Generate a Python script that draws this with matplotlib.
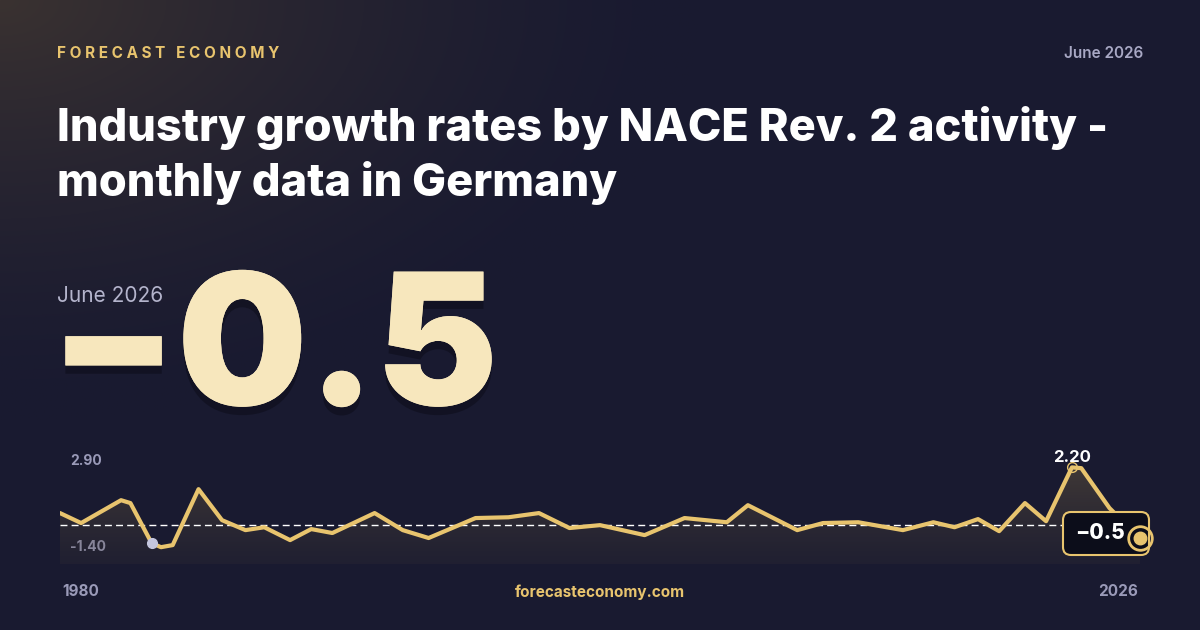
import numpy as np
import matplotlib.pyplot as plt
from matplotlib.patches import FancyBboxPatch
import matplotlib.patheffects as pe

# growth rates (year, %)
years = [1980.0, 1980.9, 1982.6, 1983.0, 1983.9, 1984.3, 1984.8, 1985.9, 1986.9, 1987.9,
         1988.7, 1989.8, 1990.7, 1991.6, 1993.4, 1994.6, 1995.7, 1997.7, 1999.1, 2000.4,
         2001.7, 2003.0, 2004.9, 2006.6, 2008.4, 2009.3, 2011.4, 2012.5, 2014.0, 2015.9,
         2017.2, 2018.1, 2019.1, 2020.0, 2021.1, 2022.0, 2023.1, 2023.5, 2024.7, 2026.0]
values = [0.46, 0.08, 0.95, 0.84, -0.68, -0.84, -0.76, 1.37, 0.19, -0.19,
          -0.08, -0.57, -0.15, -0.30, 0.46, -0.19, -0.49, 0.27, 0.30, 0.46,
          -0.11, 0.00, -0.38, 0.27, 0.11, 0.76, -0.19, 0.08, 0.11, -0.19,
          0.11, -0.08, 0.23, -0.23, 0.84, 0.15, 2.20, 2.17, 0.65, -0.50]
latest = -0.5
peak_year, peak_val = 2023.1, 2.20
low_year, low_val = 1983.9, -0.68

GOLD = '#e8c46e'
W, H = 1200, 630
fig = plt.figure(figsize=(12, 6.3), dpi=100)

# background with warm glow top-left
bg = fig.add_axes([0, 0, 1, 1])
yy, xx = np.mgrid[0:H, 0:W]
d = np.sqrt((xx / 700.0) ** 2 + (yy / 420.0) ** 2)
glow = np.clip(1 - d, 0, 1) ** 1.5
base = np.array([0x19, 0x1a, 0x30]) / 255.0
warm = np.array([0x3a, 0x32, 0x30]) / 255.0
img = base[None, None, :] * (1 - glow[..., None]) + warm[None, None, :] * glow[..., None]
bg.imshow(img, extent=[0, W, H, 0], aspect='auto')
bg.set_xlim(0, W)
bg.set_ylim(H, 0)
bg.axis('off')

fam = ['Inter', 'DejaVu Sans']
bg.text(57, 53, 'F O R E C A S T   E C O N O M Y', color=GOLD, fontsize=11, fontweight='bold',
        family=fam, va='center')
bg.text(1143, 54, 'June 2026', color='#a8a8c4', fontsize=11, fontweight='semibold', family=fam,
        va='center', ha='right')
bg.text(57, 128, 'Industry growth rates by NACE Rev. 2 activity -', color='white', fontsize=32.5,
        fontweight='heavy', family=fam, va='center')
bg.text(57, 183, 'monthly data in Germany', color='white', fontsize=32.5,
        fontweight='heavy', family=fam, va='center')
big = bg.text(50, 357, '\u22120.5', color='#f7e7bd', fontsize=132, fontweight='black', family=fam,
              va='center', zorder=3)
big.set_path_effects([pe.withSimplePatchShadow(offset=(0, -6), shadow_rgbFace='#05050c', alpha=0.35),
                      pe.Normal()])
bg.text(57, 296, 'June 2026', color='#b4b4cc', fontsize=15, family=fam, va='center', zorder=4)
bg.text(600, 592, 'forecasteconomy.com', color=GOLD, fontsize=11, fontweight='bold', family=fam,
        ha='center', va='center')
bg.text(62, 592, '1980', color='#9a9ab8', fontsize=11, fontweight='bold', family=fam, va='center')
bg.text(1138, 592, '2026', color='#9a9ab8', fontsize=11, fontweight='bold', family=fam, va='center',
        ha='right')
bg.text(70, 461, '2.90', color='#9a9ab8', fontsize=10, fontweight='bold', family=fam, va='center')
bg.text(70, 547, '-1.40', color='#9a9ab8', fontsize=10, fontweight='bold', family=fam, va='center')

# sparkline axes: x 60..1140 px, y 449..564 px
ax = fig.add_axes([60 / W, 1 - 564 / H, 1080 / W, 115 / H])
ax.patch.set_alpha(0)
ax.set_xlim(1980, 2026)
ylo, yhi = -1.48, 2.9
ax.set_ylim(ylo, yhi)
ax.axis('off')

x = np.array(years)
y = np.array(values)
# gradient fill under the line
fill = ax.fill_between(x, y, ylo, color='none')
grad = np.linspace(0, 1, 100)
cm = np.zeros((100, 1, 4))
cm[..., 0], cm[..., 1], cm[..., 2] = 0.30, 0.26, 0.22
cm[:, 0, 3] = 0.15 + 0.75 * grad ** 1.2
gi = ax.imshow(cm, extent=[1980, 2026, ylo, yhi], origin='lower', aspect='auto', zorder=1)
gi.set_clip_path(fill.get_paths()[0], transform=ax.transData)
ax.axhline(0, color='white', lw=1, ls=(0, (5, 3)), zorder=2)
ax.plot(x, y, color=GOLD, lw=3, solid_joinstyle='round', solid_capstyle='round', zorder=3)
ax.plot(low_year, low_val, 'o', ms=7, color='#c4c6de', zorder=4)
ax.plot(peak_year, peak_val, 'o', ms=7, mfc='none', mec=GOLD, mew=1, zorder=4)
ax.text(peak_year, peak_val + 0.1, '2.20', color='white', fontsize=12, fontweight='bold',
        family=fam, ha='center', va='bottom', zorder=5)

# overlay for the latest-value badge and end marker
top = fig.add_axes([0, 0, 1, 1])
top.set_xlim(0, W)
top.set_ylim(H, 0)
top.axis('off')
box = FancyBboxPatch((1063, 512), 86, 43, boxstyle='round,pad=0,rounding_size=8',
                     fc='#0c0d1a', ec=GOLD, lw=1.5)
top.add_patch(box)
top.text(1100, 533, '\u22120.5', color='white', fontsize=15, fontweight='heavy', family=fam,
         ha='center', va='center')
top.plot(1140, 538, 'o', ms=17, mfc='none', mec=GOLD, mew=2)
top.plot(1140, 538, 'o', ms=9, color=GOLD)

fig.savefig('out.png', dpi=100)
